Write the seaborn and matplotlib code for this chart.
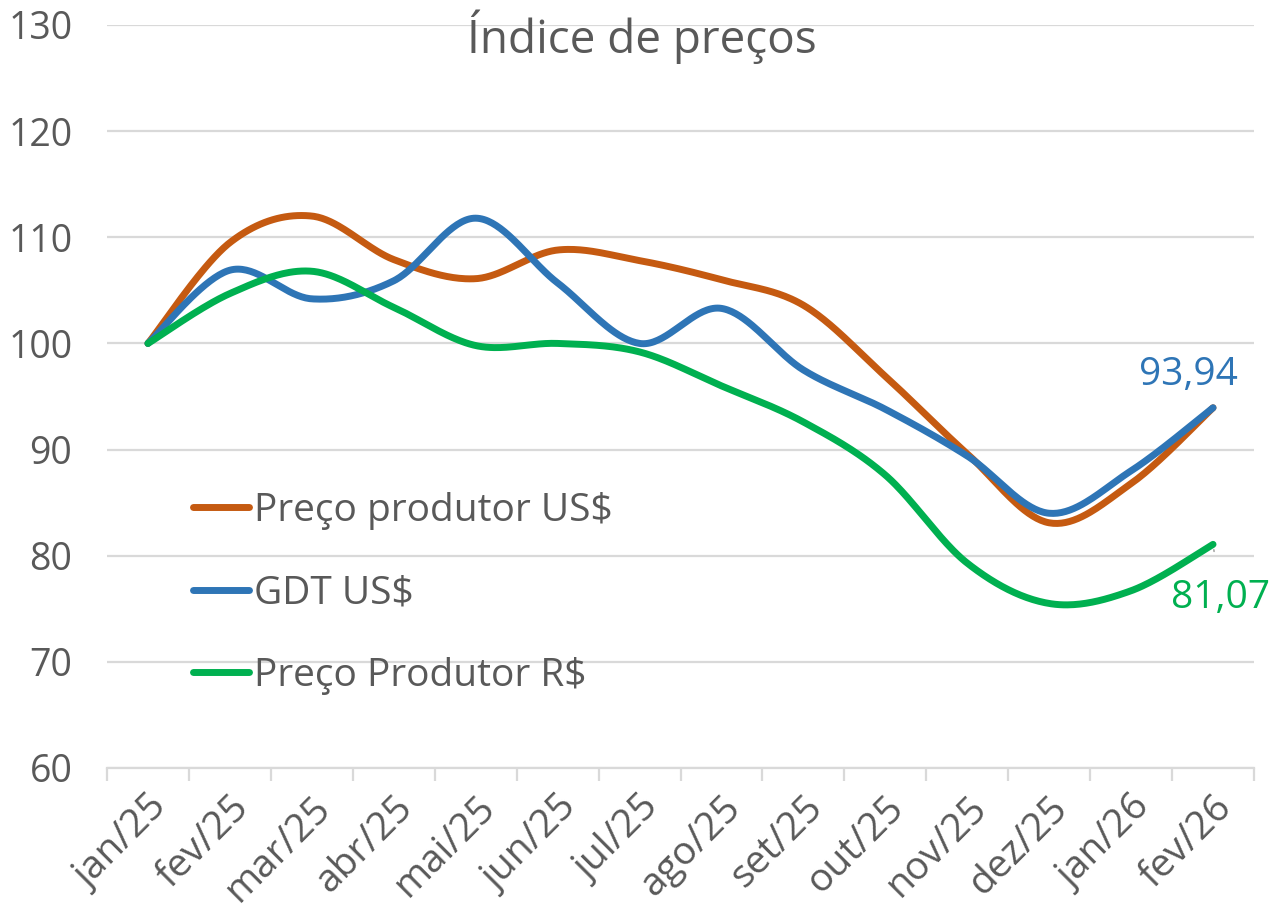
import numpy as np
import pandas as pd
import matplotlib
matplotlib.use("Agg")
import matplotlib.pyplot as plt
import seaborn as sns

# dados
meses = ['jan/25', 'fev/25', 'mar/25', 'abr/25', 'mai/25', 'jun/25', 'jul/25',
         'ago/25', 'set/25', 'out/25', 'nov/25', 'dez/25', 'jan/26', 'fev/26']
preco_produtor_usd = [100, 109.5, 112.0, 107.9, 106.1, 108.8, 107.8,
                      106.0, 103.6, 96.9, 89.6, 83.1, 86.8, 93.94]
gdt_usd = [100, 106.9, 104.2, 105.9, 111.8, 105.7, 100.0,
           103.3, 97.5, 93.8, 89.4, 84.0, 88.0, 93.94]
preco_produtor_brl = [100, 104.7, 106.8, 103.4, 99.8, 100.0, 99.2,
                      96.0, 92.6, 87.6, 79.3, 75.5, 76.7, 81.07]

series = {
    'Preço produtor US$': (preco_produtor_usd, '#C55A11'),
    'GDT US$': (gdt_usd, '#2E75B6'),
    'Preço Produtor R$': (preco_produtor_brl, '#00B050'),
}


def suavizar(y, n=40):
    # linha suavizada como no Excel (bezier tipo catmull-rom)
    y = np.asarray(y, dtype=float)
    x = np.arange(len(y), dtype=float)
    px, py = [], []
    for i in range(len(y) - 1):
        x0, y0 = (x[i - 1], y[i - 1]) if i > 0 else (x[i], y[i])
        x3, y3 = (x[i + 2], y[i + 2]) if i + 2 < len(y) else (x[i + 1], y[i + 1])
        c1x = x[i] + (x[i + 1] - x0) / 6
        c1y = y[i] + (y[i + 1] - y0) / 6
        c2x = x[i + 1] - (x3 - x[i]) / 6
        c2y = y[i + 1] - (y3 - y[i]) / 6
        t = np.linspace(0, 1, n, endpoint=(i == len(y) - 2))
        b0, b1, b2, b3 = (1 - t) ** 3, 3 * t * (1 - t) ** 2, 3 * t ** 2 * (1 - t), t ** 3
        px.append(b0 * x[i] + b1 * c1x + b2 * c2x + b3 * x[i + 1])
        py.append(b0 * y[i] + b1 * c1y + b2 * c2y + b3 * y[i + 1])
    return np.concatenate(px), np.concatenate(py)


sns.set_theme(style='white')
plt.rcParams['font.family'] = ['Open Sans', 'DejaVu Sans']
cinza = '#595959'

fig = plt.figure(figsize=(12.71, 9.10), dpi=100)
ax = fig.add_axes([107 / 1271, 1 - 768 / 910, 1147 / 1271, 743 / 910])

for nome, (vals, cor) in series.items():
    xs, ys = suavizar(vals)
    sns.lineplot(x=xs, y=ys, ax=ax, color=cor, lw=5, label=nome,
                 sort=False, estimator=None, solid_capstyle='round')

ax.set_ylim(60, 130)
ax.set_xlim(-0.5, len(meses) - 0.5)
ax.set_yticks(range(60, 131, 10))
ax.yaxis.grid(True, color='#D9D9D9', lw=1.6)
ax.set_axisbelow(True)
for s in ['top', 'right', 'left']:
    ax.spines[s].set_visible(False)
ax.spines['bottom'].set_color('#D9D9D9')
ax.spines['bottom'].set_linewidth(1.6)

ax.set_xticks(range(len(meses)))
ax.set_xticklabels(meses, rotation=45, ha='right', rotation_mode='anchor')
ax.set_xticks(np.arange(-0.5, len(meses)), minor=True)
ax.tick_params(axis='x', which='major', length=0, pad=15, labelsize=28, labelcolor=cinza)
ax.tick_params(axis='x', which='minor', length=9, width=1.6, color='#D9D9D9', bottom=True)
ax.tick_params(axis='y', length=0, pad=25, labelsize=27, labelcolor=cinza)

fig.text(642 / 1271, 1 - 53 / 910, 'Índice de preços', ha='center', va='baseline',
         fontsize=33, color=cinza)

leg = ax.legend(loc='upper left', bbox_to_anchor=(0.075, 0.372), frameon=False,
                fontsize=28, handlelength=1.45, handletextpad=0.12, labelspacing=1.15,
                borderpad=0, borderaxespad=0)
for t in leg.get_texts():
    t.set_color(cinza)
for h in leg.get_lines():
    h.set_linewidth(5)
    h.set_solid_capstyle('round')

ax.annotate('93,94', xy=(13, gdt_usd[-1]), xytext=(-25, 33), textcoords='offset pixels',
            ha='center', va='center', fontsize=28, color='#2E75B6')
ax.annotate('81,07', xy=(13, preco_produtor_brl[-1]), xytext=(8, -54),
            textcoords='offset pixels', ha='center', va='center', fontsize=28,
            color='#00B050',
            arrowprops=dict(arrowstyle='-', color='#A6A6A6', lw=1.2,
                            shrinkA=18, shrinkB=4))

fig.savefig('out.png', dpi=100)
